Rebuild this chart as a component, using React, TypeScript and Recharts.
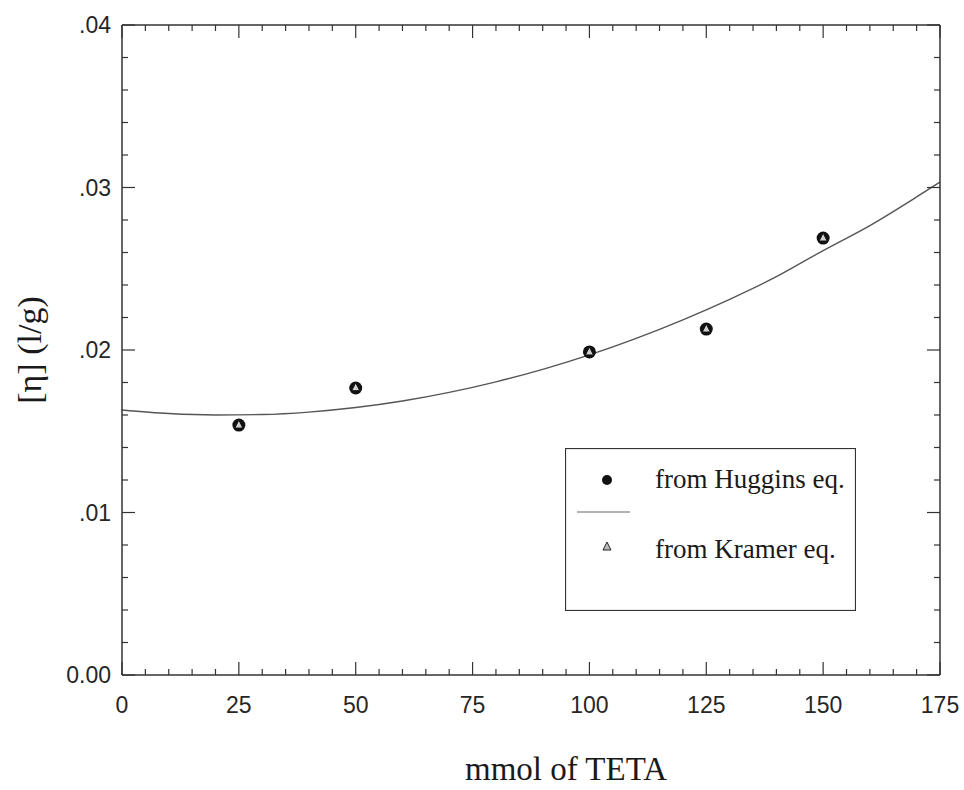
import React from 'react';
import { ComposedChart, Line, Scatter, XAxis, YAxis, Legend, Label } from 'recharts';

// Fitted curve
const curveX = [0, 10, 20, 30, 40, 50, 60, 70, 80, 90, 100, 110, 120, 130, 140, 150, 160, 170, 175];
const curveY = [0.01631, 0.01609, 0.016, 0.01603, 0.01618, 0.01646, 0.01686, 0.01739, 0.01804, 0.01881, 0.0197, 0.02072, 0.02186, 0.02312, 0.02451, 0.02612, 0.02766, 0.02942, 0.03034];

// Measured points
const pointX = [25, 50, 100, 125, 150];
const hugginsY = [0.01538, 0.01766, 0.01988, 0.02129, 0.02689];
const kramerY = [0.01538, 0.01768, 0.01988, 0.02129, 0.02689];

// Tick positions
const xTicks = [0, 5, 10, 15, 20, 25, 30, 35, 40, 45, 50, 55, 60, 65, 70, 75, 80, 85, 90, 95, 100, 105, 110, 115, 120, 125, 130, 135, 140, 145, 150, 155, 160, 165, 170, 175];
const yTicks = [0, 0.002, 0.004, 0.006, 0.008, 0.01, 0.012, 0.014, 0.016, 0.018, 0.02, 0.022, 0.024, 0.026, 0.028, 0.03, 0.032, 0.034, 0.036, 0.038, 0.04];

const xTitle = 'mmol of TETA';
const yTitle = '[η] (l/g)';
const legendLabels = ['from Huggins eq.', 'from Kramer eq.'];

const curveData = curveX.map((x, i) => ({ x, fit: curveY[i] }));
const hugginsData = pointX.map((x, i) => ({ x, y: hugginsY[i] }));
const kramerData = pointX.map((x, i) => ({ x, y: kramerY[i] }));

const AXIS = '#333';
const TEXT = '#262626';
const SANS = '"Liberation Sans", Arial, sans-serif';
const SERIF = '"Liberation Serif", "Times New Roman", serif';

const isMajorX = (v: number) => Math.round(v) % 25 === 0;
const isMajorY = (v: number) => Math.round(v * 1000) % 10 === 0;
const fmtY = (v: number) => (v === 0 ? '0.00' : '.' + String(Math.round(v * 100)).padStart(2, '0'));

const BottomTick = (props: any) => {
  const { x, y, payload } = props;
  const v = payload.value;
  const major = isMajorX(v);
  return (
    <g>
      <line x1={x} x2={x} y1={y} y2={y - (major ? 13 : 6)} stroke={AXIS} strokeWidth={1.2} />
      {major && (
        <text x={x} y={y + 38} textAnchor="middle" fontFamily={SANS} fontSize={23} fill={TEXT}>
          {String(v)}
        </text>
      )}
    </g>
  );
};

const TopTick = (props: any) => {
  const { x, y, payload } = props;
  const major = isMajorX(payload.value);
  return <line x1={x} x2={x} y1={y} y2={y + (major ? 13 : 6)} stroke={AXIS} strokeWidth={1.2} />;
};

const LeftTick = (props: any) => {
  const { x, y, payload } = props;
  const v = payload.value;
  const major = isMajorY(v);
  return (
    <g>
      <line x1={x} x2={x + (major ? 13 : 6)} y1={y} y2={y} stroke={AXIS} strokeWidth={1.2} />
      {major && (
        <text x={x - 11} y={y + 8} textAnchor="end" fontFamily={SANS} fontSize={23} fill={TEXT}>
          {fmtY(v)}
        </text>
      )}
    </g>
  );
};

const RightTick = (props: any) => {
  const { x, y, payload } = props;
  const major = isMajorY(payload.value);
  return <line x1={x} x2={x - (major ? 13 : 6)} y1={y} y2={y} stroke={AXIS} strokeWidth={1.2} />;
};

const CircleShape = (props: any) => {
  const { cx, cy } = props;
  return <circle cx={cx} cy={cy} r={6.5} fill="#111" />;
};

const TriangleShape = (props: any) => {
  const { cx, cy } = props;
  const h = 4;
  return (
    <polygon
      points={`${cx},${cy - h - 1} ${cx - h},${cy + h - 1} ${cx + h},${cy + h - 1}`}
      fill="#d0d0d0"
      stroke="#111"
      strokeWidth={1}
    />
  );
};

const renderLegend = () => (
  <svg width={291} height={163} style={{ display: 'block' }}>
    <rect x={0.5} y={0.5} width={290} height={162} fill="#fff" stroke={AXIS} strokeWidth={1.2} />
    <circle cx={42} cy={32} r={5} fill="#111" />
    <text x={90} y={40} fontFamily={SERIF} fontSize={27} fill="#1a1a1a">{legendLabels[0]}</text>
    <line x1={12} x2={65} y1={64} y2={64} stroke="#666" strokeWidth={1.2} />
    <polygon points="42,94 38,102 46,102" fill="#bbb" stroke="#222" strokeWidth={1} />
    <text x={90} y={110} fontFamily={SERIF} fontSize={27} fill="#1a1a1a">{legendLabels[1]}</text>
  </svg>
);

export default function App() {
  return (
    <div style={{ position: 'absolute', left: 0, top: 0, background: '#fff' }}>
      <ComposedChart
        width={964}
        height={790}
        data={curveData}
        margin={{ top: 0, right: 0, bottom: 0, left: 0 }}
      >
        <XAxis
          dataKey="x"
          type="number"
          domain={[0, 175]}
          ticks={xTicks}
          interval={0}
          allowDataOverflow
          height={115}
          tickSize={0}
          tickMargin={0}
          tickLine={false}
          tick={<BottomTick />}
          axisLine={{ stroke: AXIS, strokeWidth: 1.5 }}
        >
          <Label
            content={(p: any) => {
              const vb = p.viewBox;
              return (
                <text x={vb.x + vb.width / 2 + 35} y={780} textAnchor="middle" fontFamily={SERIF} fontSize={33} fill="#1a1a1a">
                  {xTitle}
                </text>
              );
            }}
          />
        </XAxis>
        <XAxis
          xAxisId="top"
          orientation="top"
          dataKey="x"
          type="number"
          domain={[0, 175]}
          ticks={xTicks}
          interval={0}
          allowDataOverflow
          height={25}
          tickSize={0}
          tickMargin={0}
          tickLine={false}
          tick={<TopTick />}
          axisLine={{ stroke: AXIS, strokeWidth: 1.5 }}
        />
        <YAxis
          type="number"
          domain={[0, 0.04]}
          ticks={yTicks}
          interval={0}
          allowDataOverflow
          width={122}
          tickSize={0}
          tickMargin={0}
          tickLine={false}
          tick={<LeftTick />}
          axisLine={{ stroke: AXIS, strokeWidth: 1.5 }}
        >
          <Label
            content={(p: any) => {
              const vb = p.viewBox;
              const cy = vb.y + vb.height / 2;
              return (
                <text x={41} y={cy} transform={`rotate(-90 41 ${cy})`} textAnchor="middle" fontFamily={SERIF} fontSize={34} fill="#1a1a1a">
                  {yTitle}
                </text>
              );
            }}
          />
        </YAxis>
        <YAxis
          yAxisId="right"
          orientation="right"
          type="number"
          domain={[0, 0.04]}
          ticks={yTicks}
          interval={0}
          allowDataOverflow
          width={24}
          tickSize={0}
          tickMargin={0}
          tickLine={false}
          tick={<RightTick />}
          axisLine={{ stroke: AXIS, strokeWidth: 1.5 }}
        />
        <Line
          dataKey="fit"
          type="monotone"
          stroke="#555"
          strokeWidth={1.4}
          dot={false}
          activeDot={false}
          isAnimationActive={false}
        />
        <Scatter data={hugginsData} dataKey="y" shape={<CircleShape />} isAnimationActive={false} />
        <Scatter data={kramerData} dataKey="y" shape={<TriangleShape />} isAnimationActive={false} />
        <Legend
          layout="horizontal"
          verticalAlign="middle"
          align="center"
          content={renderLegend}
          wrapperStyle={{ left: 565, top: 448, width: 291, height: 163 }}
        />
      </ComposedChart>
    </div>
  );
}
